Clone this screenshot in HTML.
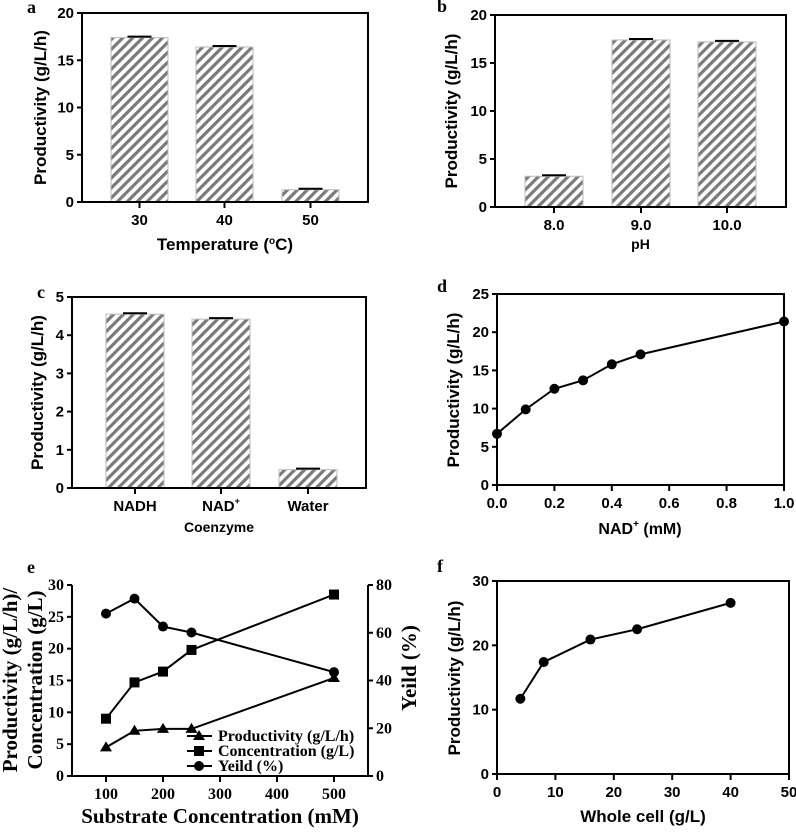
<!DOCTYPE html>
<html><head><meta charset="utf-8"><style>
body{margin:0;background:#fff}
svg{display:block}
.ar{font-family:"Liberation Sans",Arial,sans-serif;font-weight:bold}
.tm{font-family:"Liberation Serif","Times New Roman",serif;font-weight:bold}
</style></head><body>
<svg id="s" width="796" height="833" viewBox="0 0 796 833" xmlns="http://www.w3.org/2000/svg">
<defs><pattern id="hatch" width="7" height="7" patternUnits="userSpaceOnUse" patternTransform="rotate(45)">
<rect width="7" height="7" fill="#fff"/><rect width="3.2" height="7" fill="#7a7a7a"/></pattern></defs>
</svg>
<script>
// Panel a
const aCats=["30","40","50"]; const aVals=[17.4,16.4,1.3]; const aTicks=[0,5,10,15,20];
// Panel b
const bCats=["8.0","9.0","10.0"]; const bVals=[3.2,17.4,17.2]; const bTicks=[0,5,10,15,20];
// Panel c
const cCats=["NADH","NAD+","Water"]; const cVals=[4.55,4.42,0.48]; const cTicks=[0,1,2,3,4,5];
// Panel d
const dX=[0,0.1,0.2,0.3,0.4,0.5,1.0]; const dY=[6.7,9.9,12.6,13.7,15.8,17.1,21.4];
const dXTicks=[0,0.2,0.4,0.6,0.8,1.0]; const dYTicks=[0,5,10,15,20,25];
// Panel e
const eX=[100,150,200,250,500];
const eProd=[4.5,7.1,7.4,7.4,15.4];
const eConc=[9.0,14.7,16.4,19.8,28.5];
const eYield=[68,74.3,62.6,60.1,43.5];
const eXTicks=[100,200,300,400,500]; const eYTicks=[0,5,10,15,20,25,30]; const eY2Ticks=[0,20,40,60,80];
// Panel f
const fX=[4,8,16,24,40]; const fY=[11.7,17.4,20.9,22.5,26.6];
const fXTicks=[0,10,20,30,40,50]; const fYTicks=[0,10,20,30];

const S=document.getElementById('s'); const NS="http://www.w3.org/2000/svg";
function el(t,a,p){const e=document.createElementNS(NS,t);for(const k in a)e.setAttribute(k,a[k]);(p||S).appendChild(e);return e;}
function txt(x,y,s,cls,size,anchor,rot){const e=el('text',{x:x,y:y,'font-size':size,'text-anchor':anchor||'middle','class':cls,fill:'#000'});
 if(rot)e.setAttribute('transform','rotate(-90 '+x+' '+y+')');e.textContent=s;return e;}
function lin(d0,d1,r0,r1){return v=>r0+(v-d0)/(d1-d0)*(r1-r0);}
function frame(g,x0,x1,y0,y1,box){
 const f=el('path',{d:box?`M${x0} ${y1}V${y0}H${x1}V${y1}Z`:`M${x0} ${y0}V${y1}H${x1}V${y0}`,fill:'none',stroke:'#000','stroke-width':2},g);
 }
function yAxis(g,ticks,y,x0,cls,side,fs){fs=fs||15;
 ticks.forEach(t=>{el('line',{x1:side?x0:x0-5,x2:side?x0+5:x0,y1:y(t),y2:y(t),stroke:'#000','stroke-width':2},g);
  const l=txt(side?x0+8:x0-8,y(t)+5,String(t),cls,fs,side?'start':'end');
  });}
function bars(name,cats,vals,ticks,ymax,x0,x1,y0,y1,bx,bw,ttl,ttlY,lab,labX,labY,ytx){
 const g=el('g',{});
 const y=lin(0,ymax,y1,y0);
 vals.forEach((v,i)=>{const r=el('rect',{x:bx[i],y:y(v),width:bw,height:y1-y(v),fill:'url(#hatch)',stroke:'#bbb','stroke-width':1},g);
  
  const c=bx[i]+bw/2;el('line',{x1:c-12,x2:c+12,y1:y(v)-1,y2:y(v)-1,stroke:'#000','stroke-width':2},g);
  el('line',{x1:c,x2:c,y1:y1,y2:y1+6,stroke:'#000','stroke-width':2},g);
  const l=txt(c,y1+23,cats[i].replace('+',''),'ar',15);
  if(cats[i].includes('+')){const sp=el('tspan',{dy:-7,'font-size':9},l);sp.textContent='+';}});
 frame(g,x0,x1,y0,y1,true);yAxis(g,ticks,y,x0,'ar');
 const yt=txt(ytx,(y0+y1)/2,'Productivity (g/L/h)','ar',17,'middle',true);
 const xt=txt((x0+x1)/2,ttlY,'','ar',ttl[1]);
 xt.innerHTML=ttl[0];
 const pl=txt(labX,labY,lab,'tm',18,'start');}
bars('a',aCats,aVals,aTicks,20,82,368,13,202,[111,196,282],57,['Temperature (<tspan dy="-6" font-size="10">o</tspan><tspan dy="6">C)</tspan>',17],250,'a',27,13,46);
bars('b',bCats,bVals,bTicks,20,495,786,15,207,[525,612,698],58,['pH',14],249,'b',437,12,457);
bars('c',cCats,cVals,cTicks,5,72,366,297,488,[106,192,279],58,['Coenzyme',14],532,'c',37,298,43);

function line(g,xs,ys,x,y,marker,nm){
 const p=el('polyline',{points:xs.map((v,i)=>x(v)+','+y(ys[i])).join(' '),fill:'none',stroke:'#000','stroke-width':2},g);
 
 xs.forEach((v,i)=>{const cx=x(v),cy=y(ys[i]);let m;
  if(marker==='c')m=el('circle',{cx:cx,cy:cy,r:5,fill:'#000'},g);
  else if(marker==='s')m=el('rect',{x:cx-5,y:cy-5,width:10,height:10,fill:'#000'},g);
  else m=el('path',{d:`M${cx} ${cy-6}L${cx+6} ${cy+4}L${cx-6} ${cy+4}Z`,fill:'#000'},g);
  });}
function xTicks(g,ticks,x,y1,cls,fmt,fs){fs=fs||15;ticks.forEach(t=>{el('line',{x1:x(t),x2:x(t),y1:y1,y2:y1+6,stroke:'#000','stroke-width':2},g);
 const l=txt(x(t),y1+23,fmt?fmt(t):String(t),cls,fs);});}

// d
{const g=el('g',{});
 const x=lin(0,1,497,784),y=lin(0,25,485,294);
 frame(g,497,784,294,485,true);yAxis(g,dYTicks,y,497,'ar');xTicks(g,dXTicks,x,485,'ar',t=>t.toFixed(1));
 line(g,dX,dY,x,y,'c','nad-productivity');
 const yt=txt(459,390,'Productivity (g/L/h)','ar',17,'middle',true);
 const xt=txt(640,534,'','ar',16);xt.innerHTML='NAD<tspan dy="-7" font-size="10">+</tspan><tspan dy="7"> (mM)</tspan>';
 const pl=txt(437,292,'d','tm',18,'start');}
// e
{const g=el('g',{});
 const x=lin(100,500,106,334),y=lin(0,30,776,585),y2=lin(0,80,776,585);
 frame(g,72,368,585,776,false);yAxis(g,eYTicks,y,72,'tm',false,16);yAxis(g,eY2Ticks,y2,368,'tm',true,16);xTicks(g,eXTicks,x,776,'tm',null,16);
 line(g,eX,eProd,x,y,'t','productivity');line(g,eX,eConc,x,y,'s','concentration');line(g,eX,eYield,x,y2,'c','yield');
 [['t','Productivity (g/L/h)'],['s','Concentration (g/L)'],['c','Yeild (%)']].forEach((L,i)=>{const ly=736+i*15;
  const lg=el('g',{},g);
  el('line',{x1:187,x2:212,y1:ly,y2:ly,stroke:'#000','stroke-width':2},lg);
  if(L[0]==='c')el('circle',{cx:199,cy:ly,r:5,fill:'#000'},lg);else if(L[0]==='s')el('rect',{x:194,y:ly-5,width:10,height:10,fill:'#000'},lg);
  else el('path',{d:`M199 ${ly-6}L205 ${ly+4}L193 ${ly+4}Z`,fill:'#000'},lg);
  txt(218,ly+5,L[1],'tm',16,'start',false);});
 const t1=txt(17,680,'Productivity (g/L/h)/','tm',21,'middle',true);
 const t2=txt(42,680,'Concentration (g/L)','tm',21,'middle',true);
 const t3=txt(416,668,'Yeild (%)','tm',21,'middle',true);
 const xt=txt(220,823,'Substrate Concentration (mM)','tm',21);
 const pl=txt(27,573,'e','tm',18,'start');}
// f
{const g=el('g',{});
 const x=lin(0,50,497,789),y=lin(0,30,774,581);
 frame(g,497,789,581,774,true);yAxis(g,fYTicks,y,497,'ar');xTicks(g,fXTicks,x,774,'ar');
 line(g,fX,fY,x,y,'c','whole-cell-productivity');
 const yt=txt(460,678,'Productivity (g/L/h)','ar',17,'middle',true);
 const xt=txt(643,822,'Whole cell (g/L)','ar',17);
 const pl=txt(437,572,'f','tm',18,'start');}
</script>
</body></html>
